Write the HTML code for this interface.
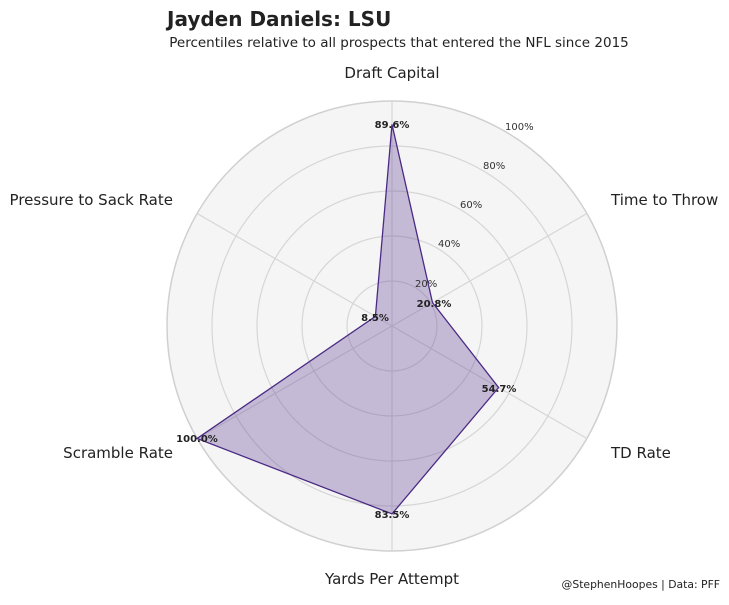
<!DOCTYPE html>
<html><head><meta charset="utf-8"><style>body{margin:0;background:#fff}</style></head><body>
<svg width="729" height="600" xmlns="http://www.w3.org/2000/svg" font-family="DejaVu Sans, sans-serif">
<rect width="729" height="600" fill="#fff"/>
<text x="167" y="26" font-size="20" font-weight="bold" fill="#222">Jayden Daniels: LSU</text>
<text x="399" y="47" font-size="13.5" fill="#222" text-anchor="middle">Percentiles relative to all prospects that entered the NFL since 2015</text>
<circle cx="392" cy="326" r="225" fill="#f5f5f5" stroke="#d0d0d0" stroke-width="1.5"/>
<g fill="none" stroke="#d6d6d6" stroke-width="1.2">
<circle cx="392" cy="326" r="45"/><circle cx="392" cy="326" r="90"/><circle cx="392" cy="326" r="135"/><circle cx="392" cy="326" r="180"/>
<line x1="392" y1="326" x2="392" y2="101"/><line x1="392" y1="326" x2="392" y2="551"/>
<line x1="392" y1="326" x2="586.9" y2="213.5"/><line x1="392" y1="326" x2="586.9" y2="438.5"/>
<line x1="392" y1="326" x2="197.1" y2="213.5"/><line x1="392" y1="326" x2="197.1" y2="438.5"/>
</g>
<polygon points="392,124.4 432.5,302.6 498.6,387.5 392,513.9 197.1,438.5 375.4,316.4" fill="#6b4c9a" fill-opacity="0.35" stroke="#4b2a85" stroke-width="1.3"/>
<g font-size="10" fill="#333">
<text x="415" y="287">20%</text><text x="438" y="247">40%</text><text x="460" y="208">60%</text><text x="483" y="169">80%</text><text x="505" y="130">100%</text>
</g>
<g font-size="10" font-weight="bold" fill="#222" text-anchor="middle">
<text x="392" y="128">89.6%</text><text x="434" y="307">20.8%</text><text x="499" y="392">54.7%</text>
<text x="392" y="518">83.5%</text><text x="197" y="442">100.0%</text><text x="375" y="321">8.5%</text>
</g>
<g font-size="15" fill="#222">
<text x="392" y="78" text-anchor="middle">Draft Capital</text>
<text x="611" y="205">Time to Throw</text>
<text x="611" y="458">TD Rate</text>
<text x="392" y="584" text-anchor="middle">Yards Per Attempt</text>
<text x="173" y="458" text-anchor="end">Scramble Rate</text>
<text x="173" y="205" text-anchor="end">Pressure to Sack Rate</text>
</g>
<text x="720" y="588" font-size="10.8" fill="#222" text-anchor="end">@StephenHoopes | Data: PFF</text>
</svg>
</body></html>
